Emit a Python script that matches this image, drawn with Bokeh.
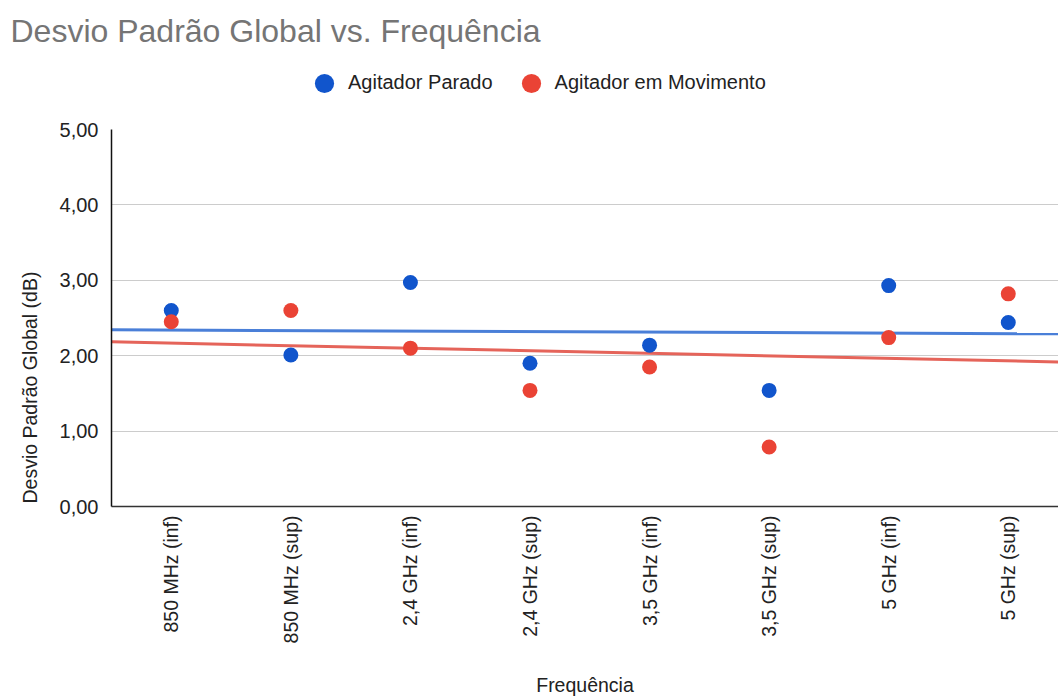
import numpy as np
from bokeh.plotting import figure
from bokeh.layouts import column
from bokeh.models import Range1d, FixedTicker, Legend, LegendItem, Title
from bokeh.embed import file_html
from bokeh.resources import INLINE

# ---- data ----
categories = ["850 MHz (inf)", "850 MHz (sup)", "2,4 GHz (inf)", "2,4 GHz (sup)",
              "3,5 GHz (inf)", "3,5 GHz (sup)", "5 GHz (inf)", "5 GHz (sup)"]
parado = [2.60, 2.01, 2.97, 1.90, 2.14, 1.54, 2.93, 2.44]
movimento = [2.45, 2.60, 2.10, 1.54, 1.85, 0.79, 2.24, 2.82]
series_names = ["Agitador Parado", "Agitador em Movimento"]
y_ticks = [0, 1, 2, 3, 4, 5]
y_tick_labels = ["0,00", "1,00", "2,00", "3,00", "4,00", "5,00"]

FONT = "Liberation Sans"
W = 1058
HEAD_H = 114
MAIN_H = 699 - HEAD_H
x_pos = list(range(1, len(categories) + 1))
x_start, x_end = 0.5, 8.42
blue, red = "#1155CC", "#EA4335"
blue_trend, red_trend = "#4A7FD8", "#E5645A"

# ---------- header: title + legend ----------
head = figure(width=W, height=HEAD_H, output_backend="svg", toolbar_location=None,
              x_axis_type=None, y_axis_type=None,
              x_range=Range1d(x_start, x_end), y_range=Range1d(10, 11),
              min_border_left=0, min_border_right=0, min_border_top=0,
              min_border_bottom=0)
head.outline_line_color = None
head.background_fill_color = "white"
head.border_fill_color = "white"
head.title.text = "Desvio Padrão Global vs. Frequência"
head.title.text_font = FONT
head.title.text_font_size = "32px"
head.title.text_font_style = "normal"
head.title.text_color = "#757575"
head.title.align = "left"
head.title.offset = -101
head.title.standoff = 20

# legend swatches (same series; outside the header's visible range)
h_blue = head.scatter(x_pos, parado, size=15, fill_color=blue, line_color=None)
h_red = head.scatter(x_pos, movimento, size=15, fill_color=red, line_color=None)
legend = Legend(items=[LegendItem(label=series_names[0], renderers=[h_blue]),
                       LegendItem(label=series_names[1], renderers=[h_red])],
                orientation="horizontal", glyph_width=48, glyph_height=48,
                label_standoff=0, spacing=14, padding=0, margin=0,
                border_line_color=None, background_fill_alpha=0,
                label_text_font=FONT, label_text_font_size="20px",
                label_text_color="#222222", location=(189, 7.5))
head.add_layout(legend)

# ---------- main chart ----------
p = figure(width=W, height=MAIN_H, output_backend="svg", toolbar_location=None,
           x_range=Range1d(x_start, x_end), y_range=Range1d(0, 5),
           min_border_left=110, min_border_right=0, min_border_top=15,
           min_border_bottom=193)
p.outline_line_color = None
p.background_fill_color = "white"
p.border_fill_color = "white"

# trendlines (linear fit of each series)
for vals, col in ((parado, blue_trend), (movimento, red_trend)):
    m, b = np.polyfit(x_pos, vals, 1)
    xs = [x_start, x_end]
    p.line(xs, [m * x + b for x in xs], line_color=col, line_width=3)

p.scatter(x_pos, parado, size=15, fill_color=blue, line_color=None)
p.scatter(x_pos, movimento, size=15, fill_color=red, line_color=None)

ytitle = Title(text="Desvio Padrão Global (dB)", align="left", offset=3,
               vertical_align="bottom", standoff=32,
               text_font=FONT, text_font_size="19.5px", text_font_style="normal",
               text_color="#222222")
p.add_layout(ytitle, "left")

for ax in (p.xaxis[0], p.yaxis[0]):
    ax.major_tick_line_color = None
    ax.minor_tick_line_color = None
    ax.major_tick_out = 0
    ax.major_tick_in = 0
    ax.minor_tick_out = 0
    ax.minor_tick_in = 0
    ax.axis_line_color = "#333333"
    ax.axis_line_width = 1.5
    ax.major_label_text_font = FONT
    ax.major_label_text_color = "#222222"
    ax.axis_label_text_font = FONT
    ax.axis_label_text_font_size = "19.5px"
    ax.axis_label_text_font_style = "normal"
    ax.axis_label_text_color = "#222222"

yax = p.yaxis[0]
yax.ticker = FixedTicker(ticks=y_ticks)
yax.major_label_overrides = dict(zip(y_ticks, y_tick_labels))
yax.major_label_standoff = 13
yax.major_label_text_font_size = "20px"
yax.axis_line_color = "#111111"

xax = p.xaxis[0]
xax.ticker = FixedTicker(ticks=x_pos)
xax.major_label_overrides = dict(zip(x_pos, categories))
xax.major_label_orientation = np.pi / 2
xax.major_label_standoff = 9
xax.major_label_text_font_size = "19.5px"
xax.axis_label = "Frequência"
xax.axis_label_standoff = 28

p.xgrid.grid_line_color = None
p.ygrid.grid_line_color = "#CCCCCC"
p.ygrid.grid_line_width = 1.2

layout = column(head, p, spacing=0)
open("out.html", "w").write(file_html(layout, INLINE))
